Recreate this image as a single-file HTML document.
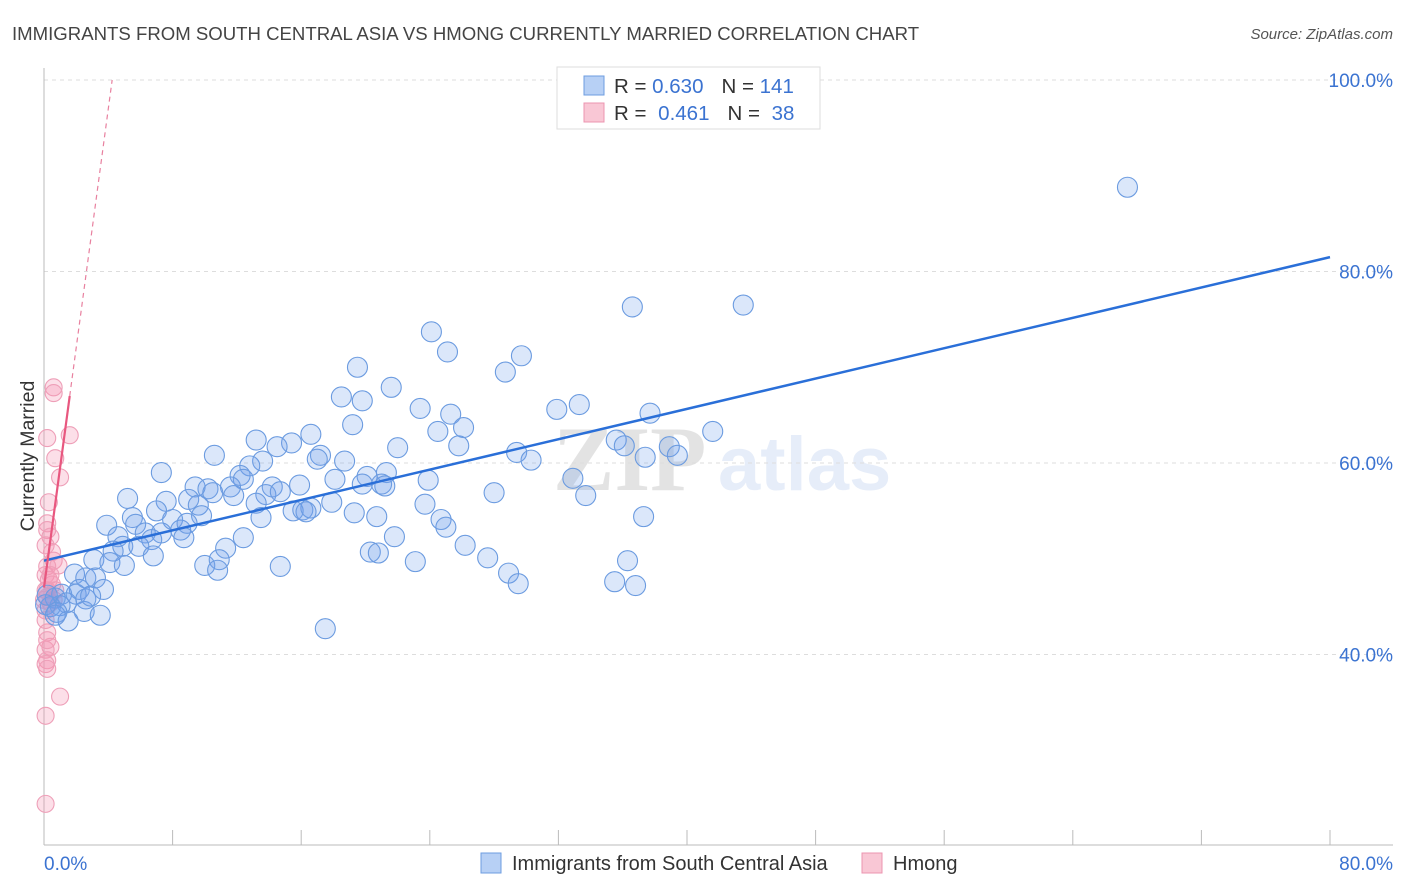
<!DOCTYPE html>
<html><head><meta charset="utf-8"><style>
body{margin:0;background:#fff;font-family:"Liberation Sans",sans-serif}
svg{display:block}
</style></head><body>
<svg id="chart" width="1406" height="892" xmlns="http://www.w3.org/2000/svg" font-family="Liberation Sans, sans-serif">
<text x="12" y="40" font-size="18.6" fill="#444">IMMIGRANTS FROM SOUTH CENTRAL ASIA VS HMONG CURRENTLY MARRIED CORRELATION CHART</text>
<text x="1393" y="39" font-size="15" fill="#555" font-style="italic" text-anchor="end">Source: ZipAtlas.com</text>
<g opacity="0.12">
<text x="553" y="490" font-size="92" font-family="Liberation Serif, serif" fill="#222" font-weight="bold">ZIP</text>
<text x="718" y="490" font-size="76" fill="#3a6fd0" font-weight="bold">atlas</text>
</g>
<g id="grid"></g>
<g id="axes"></g>
<g id="pinkPts"></g>
<g id="bluePts"></g>
<g id="lines"></g>
<text transform="translate(34,456) rotate(-90)" font-size="19.5" fill="#333" text-anchor="middle">Currently Married</text>
<g>
<rect x="557" y="67" width="263" height="62" fill="#fff" stroke="#ddd"/>
<rect x="584" y="76" width="20" height="19" fill="#b7d0f5" stroke="#6e9de0"/>
<rect x="584" y="103" width="20" height="19" fill="#f9c7d5" stroke="#ec94b0"/>
<text x="614" y="93" font-size="20.5" fill="#333">R = <tspan fill="#3b73d1">0.630</tspan><tspan dx="18">N = </tspan><tspan fill="#3b73d1">141</tspan></text>
<text x="614" y="120" font-size="20.5" fill="#333">R = <tspan fill="#3b73d1" dx="6">0.461</tspan><tspan dx="18">N = </tspan><tspan fill="#3b73d1" dx="6">38</tspan></text>
</g>
<g>
<rect x="481" y="853" width="20" height="20" fill="#b7d0f5" stroke="#6e9de0"/>
<text x="512" y="870" font-size="20" fill="#333">Immigrants from South Central Asia</text>
<rect x="862" y="853" width="20" height="20" fill="#f9c7d5" stroke="#ec94b0"/>
<text x="893" y="870" font-size="20" fill="#333">Hmong</text>
</g>
</svg>
<script>
const yTicks=[40,60,80,100];
const yTickLabels=["40.0%","60.0%","80.0%","100.0%"];
const xTickVals=[8,16,24,32,40,48,56,64,72,80];
const blueX=[67.4,36.6,43.5,24.1,25.1,29.7,19.5,28.7,21.6,18.5,19.8,23.4,31.9,33.3,25.3,37.7,19.2,24.5,26.1,41.6,16.6,13.2,15.4,35.6,36.1,38.9,14.5,22.0,25.8,10.6,17.2,29.4,39.4,37.4,17.0,13.6,18.7,30.3,12.8,7.3,12.2,21.3,20.1,23.9,32.9,12.4,9.4,10.2,11.6,14.2,15.9,18.1,19.8,21.0,21.2,5.2,7.6,9.0,10.5,11.8,13.8,14.7,28.0,33.7,13.2,17.9,23.7,9.6,7.0,15.5,16.1,16.6,16.3,19.3,20.7,5.5,9.8,3.9,5.7,8.0,6.3,8.5,8.9,13.5,24.7,25.0,37.3,4.6,7.3,6.7,8.7,12.4,21.8,4.9,5.9,11.3,26.2,4.3,6.8,20.3,20.8,3.1,4.1,5.0,10.0,10.9,14.7,23.1,27.6,36.3,10.8,28.9,1.9,2.6,3.2,29.5,35.5,36.8,2.2,3.7,1.1,2.0,0.7,1.4,2.6,0.4,1.0,0.1,0.8,2.5,3.5,1.5,17.5,0.7,0.2,2.9];
const blueY=[88.8,76.3,76.5,73.7,71.6,71.2,70.0,69.5,67.9,66.9,66.5,65.7,65.6,66.1,65.1,65.2,64.0,63.3,63.7,63.3,63.0,62.4,62.1,62.4,61.8,61.7,61.7,61.6,61.8,60.8,60.8,61.1,60.8,60.6,60.4,60.2,60.2,60.3,59.7,59.0,58.7,59.0,58.6,58.2,58.4,58.3,57.5,57.3,57.5,57.5,57.7,58.3,57.8,57.8,57.6,56.3,56.0,56.2,56.9,56.6,56.7,57.0,56.9,56.6,55.8,55.9,55.7,55.6,55.0,55.0,55.1,55.3,54.9,54.8,54.4,54.3,54.5,53.5,53.6,54.1,52.7,53.0,53.7,54.3,54.1,53.3,54.4,52.3,52.7,52.0,52.2,52.2,52.3,51.3,51.3,51.1,51.4,50.8,50.3,50.7,50.6,49.9,49.6,49.3,49.3,49.9,49.2,49.7,50.1,49.8,48.8,48.5,48.4,48.0,48.0,47.4,47.6,47.2,46.8,46.8,46.3,46.3,45.9,45.4,45.8,45.0,45.1,45.2,44.4,44.5,44.1,43.5,42.7,44.1,46.2,46.1];
const pinkX=[0.6,0.6,1.6,0.2,0.7,1.0,0.3,0.2,0.2,0.4,0.5,0.6,0.2,0.1,0.3,0.5,0.1,0.2,0.4,0.1,0.2,0.4,0.1,0.2,0.1,0.2,1.0,0.1,0.1,0.9,0.0,0.2,0.6,0.1,0.4,0.1,0.7,0.2];
const pinkY=[67.9,67.3,62.9,62.6,60.5,58.5,55.9,53.7,53.0,52.3,50.7,49.8,49.2,48.3,47.8,47.3,46.7,46.0,45.4,44.6,42.3,40.8,40.5,39.4,39.0,38.5,35.6,33.6,24.4,49.3,45.7,46.7,45.7,43.6,48.3,51.4,46.7,41.5];
const blueTrend=[49.8,81.5];
const pinkTrend={intercept:47,slope:12.5};

const X0=44,X1=1330,Y100=80,Y40=654.5;
const xs=v=>X0+(X1-X0)*v/80;
const ys=v=>Y100+(100-v)*(Y40-Y100)/60;
const NS="http://www.w3.org/2000/svg";
function mk(tag,attrs,parent){const e=document.createElementNS(NS,tag);for(const k in attrs)e.setAttribute(k,attrs[k]);parent.appendChild(e);return e;}
const grid=document.getElementById('grid'),axes=document.getElementById('axes');
yTicks.forEach((t,i)=>{
  const l=mk('line',{x1:X0,x2:1393,y1:ys(t),y2:ys(t),stroke:'#ddd','stroke-dasharray':'4,4'},grid);
  
  
  const tx=mk('text',{x:1393,y:ys(t)+7,'font-size':19,fill:'#3b73d1','text-anchor':'end'},axes);
  tx.textContent=yTickLabels[i];
  
  
});
const al=mk('line',{x1:X0,x2:X0,y1:68,y2:845,stroke:'#bbb'},axes);


const bl=mk('line',{x1:X0,x2:1393,y1:845,y2:845,stroke:'#bbb'},axes);


xTickVals.forEach(t=>{
  const l=mk('line',{x1:xs(t),x2:xs(t),y1:830,y2:845,stroke:'#bbb'},axes);
  
  
});
const xl0=mk('text',{x:44,y:870,'font-size':19,fill:'#3b73d1'},axes);xl0.textContent='0.0%';


const xl1=mk('text',{x:1393,y:870,'font-size':19,fill:'#3b73d1','text-anchor':'end'},axes);xl1.textContent='80.0%';


const pg=document.getElementById('pinkPts');
pinkX.forEach((x,i)=>{
  const c=mk('circle',{cx:xs(x),cy:ys(pinkY[i]),r:8.5,fill:'rgba(244,150,180,0.3)',stroke:'#ee9fb8','stroke-width':1.1},pg);
  
  
});
const bg=document.getElementById('bluePts');
blueX.forEach((x,i)=>{
  const c=mk('circle',{cx:xs(x),cy:ys(blueY[i]),r:10,fill:'rgba(110,160,235,0.25)',stroke:'#6b9be0','stroke-width':1.1},bg);
  
  
});
const lg=document.getElementById('lines');
const b=mk('line',{x1:xs(0),y1:ys(blueTrend[0]),x2:xs(80),y2:ys(blueTrend[1]),stroke:'#2a6fd8','stroke-width':2.5},lg);


const pf=x=>pinkTrend.intercept+pinkTrend.slope*x;
const xe=(100-pinkTrend.intercept)/pinkTrend.slope;
const p1=mk('line',{x1:xs(0),y1:ys(pf(0)),x2:xs(1.6),y2:ys(pf(1.6)),stroke:'#e8577f','stroke-width':2.2},lg);


const p2=mk('line',{x1:xs(1.6),y1:ys(pf(1.6)),x2:xs(xe),y2:ys(100),stroke:'#e8809f','stroke-width':1.2,'stroke-dasharray':'5,4'},lg);


</script>
</body></html>
